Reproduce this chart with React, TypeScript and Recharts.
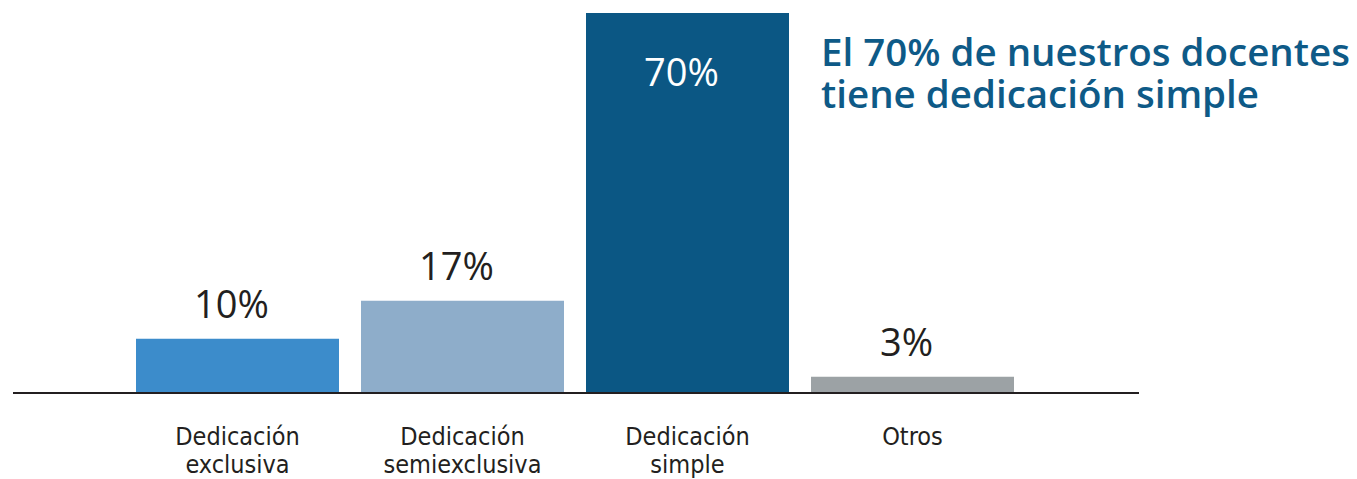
import { BarChart, Bar, XAxis, YAxis, Cell, LabelList } from "recharts";

const categories = [
  "Dedicación exclusiva",
  "Dedicación semiexclusiva",
  "Dedicación simple",
  "Otros",
];
const tickLines = [
  ["Dedicación", "exclusiva"],
  ["Dedicación", "semiexclusiva"],
  ["Dedicación", "simple"],
  ["Otros"],
];
const values = [10, 17, 70, 3];
const barColors = ["#3c8ccb", "#8eadca", "#0b5784", "#9ca2a5"];
const titleLines = ["El 70% de nuestros docentes", "tiene dedicación simple"];

const data = categories.map((name, i) => ({ name, value: values[i] }));

const textColor = "#231f20";
const labelFont = "'DejaVu Sans Condensed', 'DejaVu Sans', sans-serif";
const valueFont = "'Open Sans', sans-serif";

const CategoryTick = ({ x, y, payload }: any) => {
  const idx = categories.indexOf(payload.value);
  const lines = tickLines[idx] ?? [payload.value];
  return (
    <text x={x} y={y} textAnchor="middle" fontFamily={labelFont} fontSize={25} fill={textColor}>
      {lines.map((l, i) => (
        <tspan key={i} x={x} dy={i === 0 ? 52 : 28}>
          {l}
        </tspan>
      ))}
    </text>
  );
};

const ValueLabel = (props: any) => {
  const { x, y, width, value } = props;
  const inside = value === Math.max(...values);
  return (
    <text
      x={x + width / 2 - 6}
      y={inside ? y + 73 : y - 21}
      textAnchor="middle"
      fontFamily={valueFont}
      fontWeight={500}
      fontSize={38}
      fill={inside ? "#ffffff" : textColor}
    >
      {value}%
    </text>
  );
};

export default function App() {
  return (
    <div style={{ position: "absolute", left: 0, top: 0, width: 1357, height: 479 }}>
      <BarChart
        width={1357}
        height={479}
        data={data}
        margin={{ top: 13, right: 218, left: 13, bottom: 0 }}
      >
        <XAxis
          dataKey="name"
          height={86}
          padding={{ left: 112, right: 114 }}
          axisLine={{ stroke: textColor, strokeWidth: 2 }}
          tickLine={false}
          tickSize={0}
          tickMargin={0}
          interval={0}
          tick={<CategoryTick />}
        />
        <YAxis hide domain={[0, 70]} />
        <Bar dataKey="value" barSize={203} isAnimationActive={false}>
          {data.map((d, i) => (
            <Cell key={d.name} fill={barColors[i]} />
          ))}
          <LabelList dataKey="value" content={<ValueLabel />} />
        </Bar>
      </BarChart>
      <svg
        width={1357}
        height={479}
        style={{ position: "absolute", left: 0, top: 0, pointerEvents: "none" }}
      >
        <text
          x={821}
          y={66}
          fontFamily={valueFont}
          fontWeight={600}
          fontSize={38.5}
          fill="#0e5a87"
        >
          {titleLines.map((t, i) => (
            <tspan key={i} x={821} dy={i === 0 ? 0 : 42}>
              {t}
            </tspan>
          ))}
        </text>
      </svg>
    </div>
  );
}
